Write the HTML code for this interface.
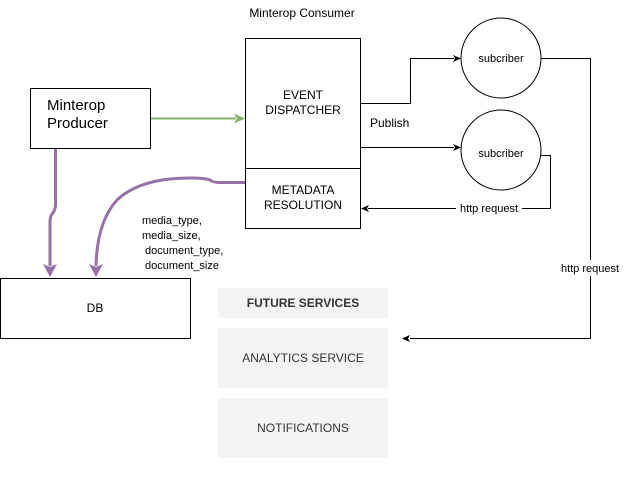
<!DOCTYPE html>
<html><head><meta charset="utf-8"><style>
html,body{margin:0;padding:0;background:#fff;}
svg{display:block;font-family:"Liberation Sans",Helvetica,Arial,sans-serif;}
</style></head><body>
<svg width="625" height="490" viewBox="0 0 625 490" xmlns="http://www.w3.org/2000/svg">
<rect width="625" height="490" fill="#fff"/>
<text x="302" y="17" font-size="12" text-anchor="middle" fill="#000">Minterop Consumer</text>
<!-- Producer -->
<rect x="30.5" y="88.5" width="120" height="60" fill="#fff" stroke="#000"/>
<text x="47" y="110" font-size="15" fill="#000">Minterop</text>
<text x="47" y="128" font-size="15" fill="#000">Producer</text>
<!-- Dispatcher -->
<rect x="245.5" y="38.5" width="115" height="130" fill="#fff" stroke="#000"/>
<text x="303" y="99" font-size="12" text-anchor="middle">EVENT</text>
<text x="303" y="114" font-size="12" text-anchor="middle">DISPATCHER</text>
<rect x="245.5" y="168.5" width="115" height="60" fill="#fff" stroke="#000"/>
<text x="303" y="194" font-size="12" text-anchor="middle">METADATA</text>
<text x="303" y="209" font-size="12" text-anchor="middle">RESOLUTION</text>
<!-- green arrow -->
<line x1="151" y1="118.5" x2="236" y2="118.5" stroke="#82b366" stroke-width="2"/>
<path d="M245 118.5 L234 113.5 L237 118.5 L234 123.5 Z" fill="#82b366"/>
<!-- circles -->
<circle cx="501" cy="58" r="40" fill="#fff" stroke="#000"/>
<text x="501" y="62" font-size="11" text-anchor="middle">subcriber</text>
<circle cx="501" cy="150" r="40" fill="#fff" stroke="#000"/>
<text x="501" y="157" font-size="11" text-anchor="middle">subcriber</text>
<!-- publish arrows -->
<path d="M361 103.5 H410.5 V58.5 H454" fill="none" stroke="#000"/>
<path d="M461 58.5 L453 55 L455 58.5 L453 62 Z" fill="#000"/>
<path d="M361 147.5 H454" fill="none" stroke="#000"/>
<path d="M461 147.5 L453 144 L455 147.5 L453 151 Z" fill="#000"/>
<text x="370" y="127" font-size="12">Publish</text>
<!-- http request to metadata -->
<path d="M541 155.5 H550.5 V208.5 H368" fill="none" stroke="#000"/>
<path d="M361 208.5 L369 205 L367 208.5 L369 212 Z" fill="#000"/>
<rect x="456" y="201" width="66" height="14" fill="#fff"/>
<text x="489" y="212" font-size="11" text-anchor="middle">http request</text>
<!-- http request to future -->
<path d="M541 58.5 H590.5 V338.5 H410" fill="none" stroke="#000"/>
<path d="M402 338.5 L410 335 L408 338.5 L410 342 Z" fill="#000"/>
<rect x="556" y="260" width="70" height="16" fill="#fff"/>
<text x="590" y="272" font-size="11" text-anchor="middle">http request</text>
<!-- purple -->
<path d="M55.5 149 V205 Q55.5 210 52 214 Q50 217 50 222 V266" fill="none" stroke="#9673a6" stroke-width="3"/>
<path d="M50 277 L43 264 L50 267 L57 264 Z" fill="#9673a6"/>
<path d="M245 182.5 H218 Q212 182 210 180 Q205 178 190 178 Q140 178 117 200 Q97 222 96 266" fill="none" stroke="#9673a6" stroke-width="3"/>
<path d="M96 277 L89 264 L96 267 L103 264 Z" fill="#9673a6"/>
<text font-size="11" fill="#000"><tspan x="142" y="224">media_type,</tspan><tspan x="142" y="239">media_size,</tspan><tspan x="145" y="254">document_type,</tspan><tspan x="145" y="269">document_size</tspan></text>
<!-- DB -->
<rect x="0.5" y="278.5" width="190" height="60" fill="#fff" stroke="#000"/>
<text x="95" y="312" font-size="12" text-anchor="middle">DB</text>
<!-- gray boxes -->
<rect x="218" y="288" width="170" height="30" fill="#f4f4f4"/>
<text x="303" y="307" font-size="12" font-weight="bold" fill="#333" text-anchor="middle">FUTURE SERVICES</text>
<rect x="218" y="328" width="170" height="60" fill="#f4f4f4"/>
<text x="303" y="362" font-size="12" fill="#333" text-anchor="middle">ANALYTICS SERVICE</text>
<rect x="218" y="398" width="170" height="60" fill="#f4f4f4"/>
<text x="303" y="432" font-size="12" fill="#333" text-anchor="middle">NOTIFICATIONS</text>
</svg>
</body></html>
